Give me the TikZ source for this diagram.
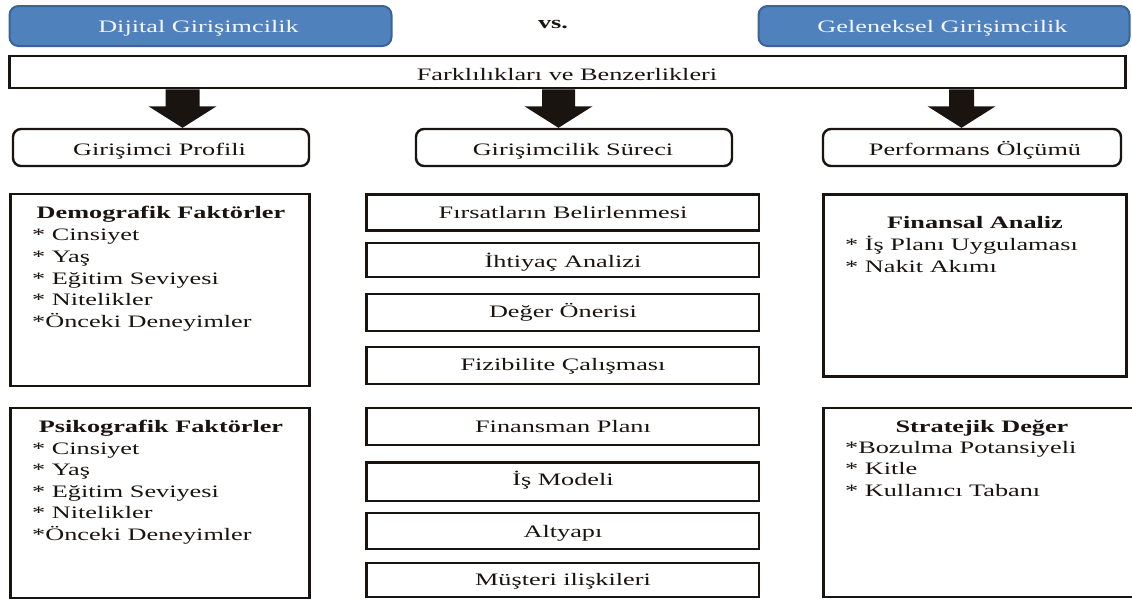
\documentclass[tikz,border=0pt]{standalone}
\usepackage{fontspec}
\setmainfont{Liberation Serif}[FakeStretch=1.5]
\usetikzlibrary{calc}
\definecolor{hdrblue}{HTML}{4F81BD}
\definecolor{hdredge}{HTML}{3A6396}
\definecolor{ink}{HTML}{1A1410}
\newcommand\blockarr[3]{%
  \fill[ink] ($(#1)+(-#3,0)$) -- ($(#1)+(#3,0)$) -- ($(#1)+(#3,17)$) -- ($(#1)+(34,17)$)
    -- (#2) -- ($(#1)+(-34,17)$) -- ($(#1)+(-#3,17)$) -- cycle;}
\begin{document}
\begin{tikzpicture}[x=1pt,y=-1pt,
  every node/.style={font=\fontsize{17.5}{21.8}\selectfont, text=ink},
  txt/.style={inner sep=0, anchor=base},
  itm/.style={inner sep=0, anchor=base west},
  hdr/.style={draw=hdredge, line width=2pt, fill=hdrblue, rounded corners=9pt, inner sep=0},
  rbox/.style={draw=ink, line width=2.4pt, rounded corners=8pt, inner sep=0},
  sbox/.style={draw=ink, line width=2.6pt, inner sep=0},
]
\useasboundingbox (0,0) rectangle (1132,600);
\fill[white] (0,0) rectangle (1132,600);
\clip (0,0) rectangle (1132,600);

% top headers
\node[hdr, minimum width=382, minimum height=40] (dig) at (200.5,26) {};
\node[txt, text=white!96!blue] (digt) at (198.5,32) {Dijital Girişimcilik};
\node[hdr, minimum width=371, minimum height=40] (gel) at (944,26) {};
\node[txt, text=white!96!blue] (gelt) at (942.5,32) {Geleneksel Girişimcilik};
\node[txt, font=\fontsize{17.5}{21}\selectfont\bfseries] (vs) at (553,28) {vs.};

% wide bar
\node[sbox, minimum width=1116, minimum height=32] (bar) at (567.75,72) {};
\node[txt] (bart) at (567,80) {Farklılıkları ve Benzerlikleri};

% rounded section boxes
\node[rbox, minimum width=296, minimum height=37] (prof) at (161,147.5) {};
\node[txt] (proft) at (159.5,155) {Girişimci Profili};
\node[rbox, minimum width=316, minimum height=37] (proc) at (574,147.5) {};
\node[txt] (proct) at (573,155) {Girişimcilik Süreci};
\node[rbox, minimum width=298, minimum height=37] (perf) at (972,147.5) {};
\node[txt] (perft) at (975,155) {Performans Ölçümü};

% block arrows
\coordinate (x1) at (182.5,0);
\coordinate (x2) at (558.5,0);
\coordinate (x3) at (961.5,0);
\coordinate (a1) at (bar.south -| x1);
\coordinate (t1) at (prof.north -| x1);
\coordinate (a2) at (bar.south -| x2);
\coordinate (t2) at (proc.north -| x2);
\coordinate (a3) at (bar.south -| x3);
\coordinate (t3) at (perf.north -| x3);
\blockarr{a1}{t1}{17}
\blockarr{a2}{t2}{16.5}
\blockarr{a3}{t3}{12.5}

% left column
\node[sbox, minimum width=299, minimum height=192] (demo) at (160,290) {};
\node[txt, font=\fontsize{17.5}{21.8}\selectfont\bfseries] (demot) at (161,218) {Demografik Faktörler};
\foreach \t/\b [count=\i] in {{* Cinsiyet}/240, {* Yaş}/262, {* Eğitim Seviyesi}/284, {* Nitelikler}/305.5, {*Önceki Deneyimler}/327}
  \node[itm] (d\i) at (32,\b) {\t};

\node[sbox, minimum width=299, minimum height=190] (psy) at (160,503) {};
\node[txt, font=\fontsize{17.5}{21.8}\selectfont\bfseries] (psyt) at (161,432) {Psikografik Faktörler};
\foreach \t/\b [count=\i] in {{* Cinsiyet}/454, {* Yaş}/475.5, {* Eğitim Seviyesi}/497, {* Nitelikler}/518.5, {*Önceki Deneyimler}/540}
  \node[itm] (p\i) at (32,\b) {\t};

% middle column
\foreach \c/\h/\t/\b [count=\i] in {
  212.5/36/{Fırsatların Belirlenmesi}/218,
  260/34/{İhtiyaç Analizi}/267,
  312.5/37/{Değer Önerisi}/317,
  365.5/37/{Fizibilite Çalışması}/370,
  426.5/37/{Finansman Planı}/432,
  481.75/38.5/{İş Modeli}/485,
  531/36/{Altyapı}/537,
  580/34/{Müşteri ilişkileri}/585}
{
  \node[sbox, minimum width=392.5, minimum height=\h] (m\i) at (562.75,\c) {};
  \node[txt] (mt\i) at (563,\b) {\t};
}

% right column
\node[sbox, minimum width=303, minimum height=182] (fin) at (975,285.5) {};
\node[txt, font=\fontsize{17.5}{21.8}\selectfont\bfseries] (fint) at (975,228) {Finansal Analiz};
\node[itm] (f1) at (845,250) {* İş Planı Uygulaması};
\node[itm] (f2) at (845,272) {* Nakit Akımı};

\node[sbox, minimum width=316.5, minimum height=189] (str) at (981.75,502.5) {};
\node[txt, font=\fontsize{17.5}{21.8}\selectfont\bfseries] (strt) at (982,432) {Stratejik Değer};
\node[itm] (s1) at (845,453) {*Bozulma Potansiyeli};
\node[itm] (s2) at (845,474) {* Kitle};
\node[itm] (s3) at (845,496) {* Kullanıcı Tabanı};
\end{tikzpicture}
\end{document}
